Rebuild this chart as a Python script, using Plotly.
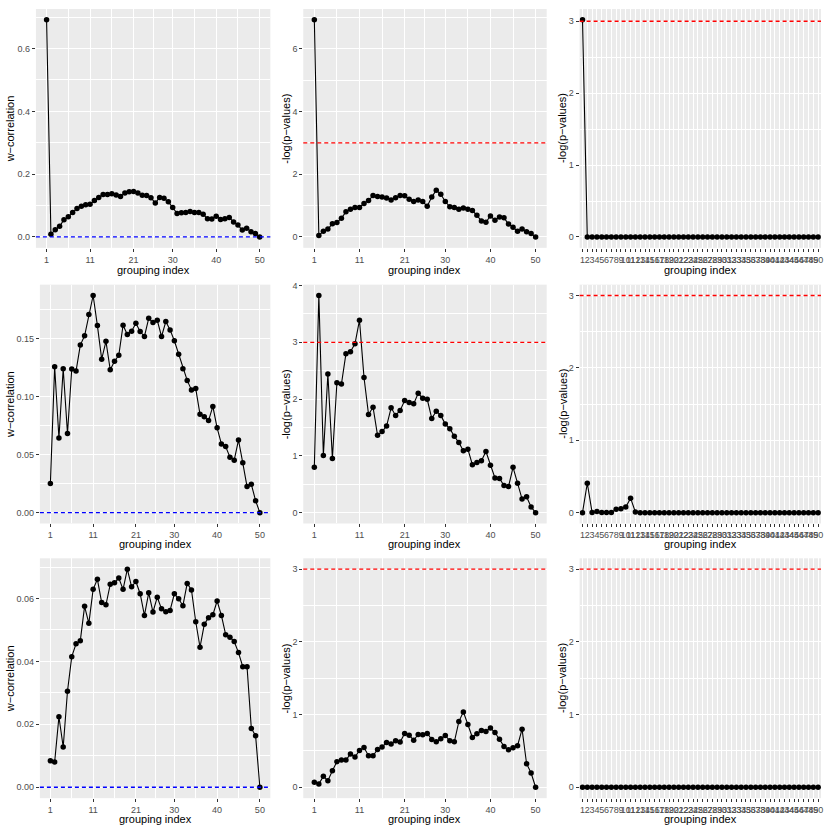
import plotly.graph_objects as go

W = H = 830

grouping_index = list(range(1, 51))
x_ticks = [1, 11, 21, 30, 40, 50]
x_minor = [6, 16, 25.5, 35, 45]

# Row 1
wcorr_r1 = [0.6916, 0.0084, 0.023, 0.034, 0.055, 0.064, 0.078, 0.091, 0.098, 0.103,
            0.104, 0.116, 0.126, 0.135, 0.135, 0.138, 0.134, 0.129, 0.140, 0.144,
            0.145, 0.140, 0.133, 0.132, 0.125, 0.108, 0.126, 0.123, 0.112, 0.094,
            0.075, 0.077, 0.078, 0.081, 0.078, 0.078, 0.072, 0.058, 0.057, 0.066,
            0.056, 0.058, 0.062, 0.048, 0.038, 0.022, 0.028, 0.017, 0.011, 0.0]
pval_r1 = [6.92, 0.05, 0.18, 0.25, 0.42, 0.46, 0.60, 0.80, 0.88, 0.94,
           0.94, 1.07, 1.16, 1.32, 1.29, 1.27, 1.24, 1.18, 1.25, 1.32,
           1.31, 1.20, 1.13, 1.18, 1.13, 0.98, 1.27, 1.49, 1.36, 1.13,
           0.96, 0.94, 0.88, 0.92, 0.88, 0.84, 0.69, 0.51, 0.47, 0.67,
           0.53, 0.64, 0.61, 0.41, 0.31, 0.18, 0.25, 0.17, 0.11, 0.0]
pdisc_r1 = [3.02, 0, 0, 0, 0, 0, 0, 0, 0, 0,
            0, 0, 0, 0, 0, 0, 0, 0, 0, 0,
            0, 0, 0, 0, 0, 0, 0, 0, 0, 0,
            0, 0, 0, 0, 0, 0, 0, 0, 0, 0,
            0, 0, 0, 0, 0, 0, 0, 0, 0, 0]

# Row 2
wcorr_r2 = [0.0251, 0.126, 0.0644, 0.1242, 0.0684, 0.124, 0.1222, 0.1447, 0.1527, 0.171,
            0.1875, 0.1615, 0.1325, 0.1479, 0.1234, 0.1308, 0.1359, 0.1618, 0.1538, 0.1567,
            0.1635, 0.1564, 0.1521, 0.1678, 0.1641, 0.1661, 0.1521, 0.165, 0.1578, 0.1484,
            0.1368, 0.1242, 0.1142, 0.106, 0.1071, 0.0849, 0.0829, 0.0795, 0.0917, 0.0732,
            0.0593, 0.057, 0.0479, 0.0453, 0.0627, 0.043, 0.0225, 0.0245, 0.0103, 0.0]
pval_r2 = [0.80, 3.825, 1.007, 2.44, 0.955, 2.288, 2.265, 2.80, 2.835, 2.975,
           3.39, 2.38, 1.73, 1.857, 1.362, 1.427, 1.525, 1.846, 1.712, 1.80,
           1.974, 1.939, 1.916, 2.102, 2.015, 1.997, 1.659, 1.787, 1.712, 1.56,
           1.479, 1.345, 1.234, 1.089, 1.118, 0.844, 0.885, 0.914, 1.077, 0.833,
           0.611, 0.60, 0.477, 0.46, 0.798, 0.518, 0.239, 0.279, 0.099, 0.0]
pdisc_r2 = [0.0, 0.406, 0.003, 0.014, 0.003, 0.003, 0.003, 0.046, 0.052, 0.078,
            0.2, 0.008, 0, 0, 0, 0, 0, 0, 0, 0,
            0, 0, 0, 0, 0, 0, 0, 0, 0, 0,
            0, 0, 0, 0, 0, 0, 0, 0, 0, 0,
            0, 0, 0, 0, 0, 0, 0, 0, 0, 0]

# Row 3
wcorr_r3 = [0.0084, 0.0080, 0.0224, 0.0128, 0.0305, 0.0415, 0.0456, 0.0466, 0.0575, 0.0521,
            0.0629, 0.0661, 0.0587, 0.058, 0.0645, 0.065, 0.0665, 0.0629, 0.0693, 0.0637,
            0.0654, 0.0615, 0.0546, 0.0618, 0.0557, 0.0604, 0.0567, 0.0558, 0.0562, 0.0615,
            0.0599, 0.0577, 0.0648, 0.0627, 0.0526, 0.0445, 0.0518, 0.0539, 0.0548, 0.0592,
            0.0546, 0.0485, 0.0477, 0.0463, 0.0428, 0.0383, 0.0383, 0.0187, 0.0164, 0.0]
pval_r3 = [0.068, 0.046, 0.15, 0.091, 0.228, 0.352, 0.374, 0.374, 0.457, 0.416,
           0.507, 0.548, 0.434, 0.434, 0.52, 0.553, 0.616, 0.594, 0.639, 0.621,
           0.74, 0.717, 0.648, 0.726, 0.721, 0.74, 0.658, 0.626, 0.667, 0.712,
           0.639, 0.626, 0.904, 1.037, 0.863, 0.685, 0.735, 0.781, 0.767, 0.817,
           0.753, 0.662, 0.562, 0.516, 0.543, 0.571, 0.799, 0.324, 0.196, 0.0]
pdisc_r3 = [0, 0, 0, 0, 0, 0, 0, 0, 0, 0,
            0, 0, 0, 0, 0, 0, 0, 0, 0, 0,
            0, 0, 0, 0, 0, 0, 0, 0, 0, 0,
            0, 0, 0, 0, 0, 0, 0, 0, 0, 0,
            0, 0, 0, 0, 0, 0, 0, 0, 0, 0]

wcorr_threshold = 0
pval_threshold = 3

y_title_w = "w−correlation"
y_title_p = "-log(p−values)"
x_title = "grouping index"

# panel specs: (values, kind, hline, hline colour, ytick vals, ytick fmt, y minor)
panels = [
    (wcorr_r1, "cont", wcorr_threshold, "#0000FF", [0, 0.2, 0.4, 0.6], ".1f", [0.1, 0.3, 0.5, 0.7]),
    (pval_r1, "cont", pval_threshold, "#FF0000", [0, 2, 4, 6], "d", [1, 3, 5, 7]),
    (pdisc_r1, "disc", pval_threshold, "#FF0000", [0, 1, 2, 3], "d", [0.5, 1.5, 2.5]),
    (wcorr_r2, "cont", wcorr_threshold, "#0000FF", [0, 0.05, 0.10, 0.15], ".2f", [0.025, 0.075, 0.125, 0.175]),
    (pval_r2, "cont", pval_threshold, "#FF0000", [0, 1, 2, 3, 4], "d", [0.5, 1.5, 2.5, 3.5]),
    (pdisc_r2, "disc", pval_threshold, "#FF0000", [0, 1, 2, 3], "d", [0.5, 1.5, 2.5]),
    (wcorr_r3, "cont", wcorr_threshold, "#0000FF", [0, 0.02, 0.04, 0.06], ".2f", [0.01, 0.03, 0.05, 0.07]),
    (pval_r3, "cont", pval_threshold, "#FF0000", [0, 1, 2, 3], "d", [0.5, 1.5, 2.5]),
    (pdisc_r3, "disc", pval_threshold, "#FF0000", [0, 1, 2, 3], "d", [0.5, 1.5, 2.5]),
]
y_titles = [y_title_w, y_title_p, y_title_p] * 3

# layout geometry in pixels (left, right) per column/row, (top, bottom) per row
col_px = {0: [(36, 271), (40, 271), (40, 271)], 1: [(304, 548)] * 3, 2: [(581, 823)] * 3}
row_px = [(5, 245), (282, 522), (557, 798)]
ytitle_x = [10, 287, 564]
xtitle_y = [267, 543, 819]

FONT = "Liberation Sans, Arial, sans-serif"
fig = go.Figure()
annotations = []
shapes = []

for i, (vals, kind, hval, hcol, ytv, yfmt, yminor) in enumerate(panels):
    r, c = divmod(i, 3)
    n = i + 1
    xa = "x" if n == 1 else f"x{n}"
    ya = "y" if n == 1 else f"y{n}"
    xl, xr = col_px[c][r]
    yt, yb = row_px[r]

    fig.add_trace(go.Scatter(
        x=grouping_index, y=vals, mode="lines+markers",
        line=dict(color="black", width=1.1),
        marker=dict(color="black", size=5.5),
        xaxis=xa, yaxis=ya, showlegend=False, hoverinfo="x+y"))

    lo = min(min(vals), hval)
    hi = max(max(vals), hval)
    pad = 0.05 * (hi - lo)
    yrange = [lo - pad, hi + pad]

    ytext = [format(v, yfmt) if yfmt != "d" else str(int(v)) for v in ytv]
    yax = dict(
        domain=[1 - yb / H, 1 - yt / H], anchor=xa, range=yrange,
        tickmode="array", tickvals=ytv, ticktext=ytext,
        showgrid=True, gridcolor="white", gridwidth=1.1, zeroline=False,
        ticks="outside", ticklen=3, tickcolor="#333333", tickwidth=1,
        tickfont=dict(family=FONT, size=9, color="#4D4D4D"),
        minor=dict(tickmode="array", tickvals=yminor, showgrid=True,
                   gridcolor="white", gridwidth=0.5, ticks=""),
        showline=False, fixedrange=True,
    )
    if kind == "cont":
        xax = dict(
            domain=[xl / W, xr / W], anchor=ya,
            range=[1 - 0.05 * 49, 50 + 0.05 * 49],
            tickmode="array", tickvals=x_ticks, ticktext=[str(v) for v in x_ticks],
            minor=dict(tickmode="array", tickvals=x_minor, showgrid=True,
                       gridcolor="white", gridwidth=0.5, ticks=""),
        )
    else:
        xax = dict(
            domain=[xl / W, xr / W], anchor=ya,
            range=[0.4, 50.6],
            tickmode="array", tickvals=grouping_index,
            ticktext=[str(v) for v in grouping_index],
        )
    xax.update(dict(
        showgrid=True, gridcolor="white", gridwidth=1.1, zeroline=False,
        ticks="outside", ticklen=3, tickcolor="#333333", tickwidth=1,
        tickangle=0, tickfont=dict(family=FONT, size=9, color="#4D4D4D"),
        showline=False, fixedrange=True,
    ))
    fig.update_layout(**{("xaxis" if n == 1 else f"xaxis{n}"): xax,
                         ("yaxis" if n == 1 else f"yaxis{n}"): yax})

    shapes.append(dict(type="line", xref=f"{xa} domain", yref=ya,
                       x0=0, x1=1, y0=hval, y1=hval,
                       line=dict(color=hcol, width=1.3, dash="4px,3px"),
                       layer="above"))

    annotations.append(dict(text=x_title, xref="paper", yref="paper",
                            x=(xl + xr) / 2 / W, y=1 - xtitle_y[r] / H,
                            xanchor="center", yanchor="middle", showarrow=False,
                            font=dict(family=FONT, size=11, color="black")))
    annotations.append(dict(text=y_titles[i], xref="paper", yref="paper",
                            x=ytitle_x[c] / W, y=1 - (yt + yb) / 2 / H,
                            xanchor="center", yanchor="middle", textangle=-90,
                            showarrow=False,
                            font=dict(family=FONT, size=11, color="black")))

fig.update_layout(
    width=W, height=H, margin=dict(l=0, r=0, t=0, b=0),
    paper_bgcolor="white", plot_bgcolor="#EBEBEB",
    shapes=shapes, annotations=annotations, showlegend=False,
    font=dict(family=FONT),
)

fig.write_html(
    "out.html",
    config={"displayModeBar": False},
    post_script="document.body.style.margin='0px';document.body.style.overflow='hidden';",
)
